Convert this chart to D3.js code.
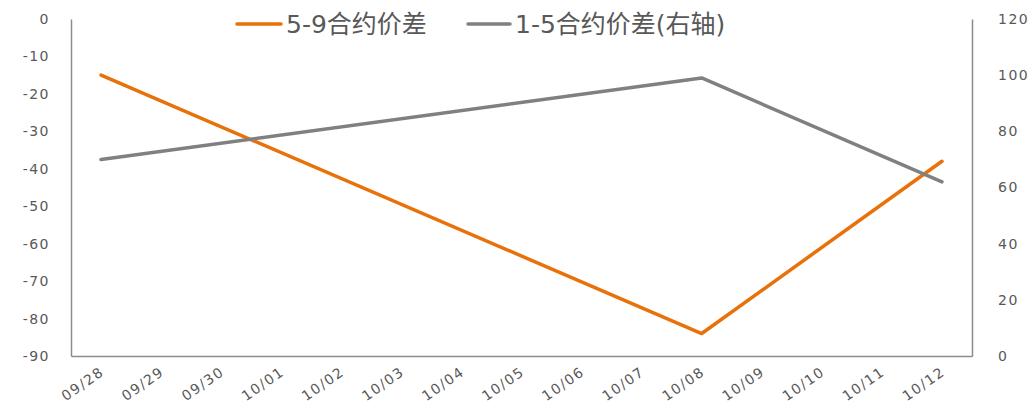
<!DOCTYPE html>
<html><head><meta charset="utf-8">
<script src="https://cdn.jsdelivr.net/npm/d3@7"></script>
<style>body{margin:0;background:#fff}svg{display:block}</style>
</head><body>
<svg id="c" width="1036" height="405"></svg>
<script>
const categories = ["09/28","09/29","09/30","10/01","10/02","10/03","10/04","10/05","10/06","10/07","10/08","10/09","10/10","10/11","10/12"];
const spread59 = [-15,null,null,null,null,null,null,null,null,null,-84,null,null,null,-38];
const spread15 = [70,null,null,null,null,null,null,null,null,null,99,null,null,null,62];
const leftTicks = [0,-10,-20,-30,-40,-50,-60,-70,-80,-90];
const rightTicks = [0,20,40,60,80,100,120];
const seriesNames = ["5-9合约价差","1-5合约价差(右轴)"];
const colors = ["#E8710A","#808080"];

const svg = d3.select("#c");
const L = 71, R = 972, T = 19, B = 356;
const font = "'DejaVu Sans','Noto Sans CJK SC',sans-serif";
const x = d3.scaleBand().domain(categories).range([L, R]);
const yL = d3.scaleLinear().domain([-90, 0]).range([B, T]);
const yR = d3.scaleLinear().domain([0, 120]).range([B, T]);
const axisColor = "#8c8c8c", textColor = "#595959";

// axes
const gl = svg.append("g").attr("transform", `translate(${L},0)`)
  .call(d3.axisLeft(yL).tickValues(leftTicks).tickFormat(d => String(d)).tickSize(0).tickPadding(21));
const gr = svg.append("g").attr("transform", `translate(${R},0)`)
  .call(d3.axisRight(yR).tickValues(rightTicks).tickFormat(d => String(d)).tickSize(0).tickPadding(26));
const gb = svg.append("g").attr("transform", `translate(0,${B})`)
  .call(d3.axisBottom(x).tickSize(0).tickPadding(0));
[gl, gr, gb].forEach(g => {
  g.select(".domain").attr("stroke", axisColor).attr("stroke-width", 1.5);
  g.selectAll("text").attr("fill", textColor).style("font-family", font)
    .style("font-size", "14px").style("letter-spacing", "1.5px");
});
gb.selectAll(".tick text")
  .attr("text-anchor", "end")
  .attr("dy", null)
  .attr("transform", "translate(4,18) rotate(-35)");

// lines
const mk = ys => d3.line()
  .x(d => x(d.c) + x.bandwidth() / 2)
  .y(d => ys(d.v));
const toPts = vals => categories.map((c, i) => ({c, v: vals[i]})).filter(d => d.v !== null);
svg.append("path").datum(toPts(spread59)).attr("d", mk(yL))
  .attr("fill", "none").attr("stroke", colors[0]).attr("stroke-width", 3.5)
  .attr("stroke-linecap", "round").attr("stroke-linejoin", "round");
svg.append("path").datum(toPts(spread15)).attr("d", mk(yR))
  .attr("fill", "none").attr("stroke", colors[1]).attr("stroke-width", 3.5)
  .attr("stroke-linecap", "round").attr("stroke-linejoin", "round");

// legend
const leg = [{x: 237, w: 44, tx: 286}, {x: 468, w: 42, tx: 515}];
leg.forEach((l, i) => {
  svg.append("line").attr("x1", l.x).attr("x2", l.x + l.w).attr("y1", 24).attr("y2", 24)
    .attr("stroke", colors[i]).attr("stroke-width", 3.5).attr("stroke-linecap", "round");
  svg.append("text").attr("x", l.tx).attr("y", 24).attr("dy", "0.36em")
    .attr("fill", textColor).style("font-family", font).style("font-size", "25px")
    .text(seriesNames[i]);
});
</script>
</body></html>
